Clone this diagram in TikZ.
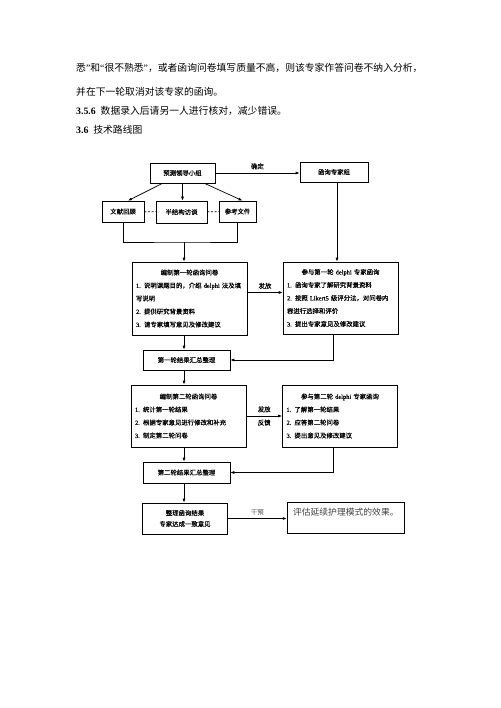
\documentclass[tikz,border=0pt]{standalone}
\usepackage{fontspec}
\setmainfont{Noto Sans CJK SC}
\newfontfamily\lat{Liberation Serif}
\newfontfamily\diag[FakeBold=0.4]{Noto Sans CJK SC}
\newfontfamily\dlat[FakeBold=0.4]{Liberation Serif}
\usepackage{tikz}
\usetikzlibrary{arrows.meta,positioning,calc}

\begin{document}
\begin{tikzpicture}[
  x=1pt, y=-1pt,
  >={Latex[length=4pt,width=3pt]},
  font=\diag\fontsize{6.4}{8}\selectfont,
  box/.style={draw, line width=0.7pt, inner sep=0pt, minimum height=20pt},
  bigbox/.style={draw, line width=0.7pt, inner xsep=4pt, inner ysep=0pt, text width=107pt, align=left, font=\diag\fontsize{6.4}{13}\selectfont},
  lbl/.style={font=\diag\fontsize{6.4}{8}\selectfont},
  body/.style={anchor=west, inner sep=0pt, font=\rmfamily\fontsize{9.8}{12}\selectfont},
  arrow/.style={->, line width=0.7pt},
  link/.style={line width=0.7pt, dash pattern=on 2pt off 1.6pt}
]
\useasboundingbox (0,0) rectangle (500,708);

% text of the page
\node[body] (t1) at (76,68) {悉{\lat ”}和{\lat “}很不熟悉{\lat ”}，或者函询问卷填写质量不高，则该专家作答问卷不纳入分析，};
\node[body] (t2) at (76,92) {并在下一轮取消对该专家的函询。};
\node[body] (t3) at (76,111) {{\lat\bfseries 3.5.6}\enspace 数据录入后请另一人进行核对，减少错误。};
\node[body] (t4) at (76,130) {{\lat\bfseries 3.6}\enspace 技术路线图};

% route map
\node[box, minimum width=65pt] (lead) at (182.5,173) {预测领导小组};
\node[box, minimum width=68pt] (panel) at (334,172) {函询专家组};
\node[box, minimum width=42pt, minimum height=21pt] (lit) at (123,211.5) {文献回顾};
\node[box, minimum width=51pt, minimum height=22pt] (interview) at (181.5,212) {半结构访谈};
\node[box, minimum width=37pt, minimum height=21pt] (refs) at (237.5,211.5) {参考文件};
\coordinate (merge) at (184,242);

\node[bigbox, minimum height=73pt] (draft1) at (189.5,298.5) {\centering 编制第一轮函询问卷\par\raggedright
  {\dlat 1.} 说明课题目的，介绍 {\dlat delphi} 法及填\\写说明\\{\dlat 2.} 提供研究背景资料\\{\dlat 3.} 请专家填写意见及修改建议};
\node[bigbox, minimum height=72pt] (reply1) at (340.5,298) {\centering 参与第一轮 {\dlat delphi} 专家函询\par\raggedright
  {\dlat 1.} 函询专家了解研究背景资料\\{\dlat 2.} 按照 {\dlat Likert5} 级评分法，对问卷内\\容进行选择和评价\\{\dlat 3.} 提出专家意见及修改建议};
\node[box, minimum width=87pt] (sum1) at (186.5,360) {第一轮结果汇总整理};

\node[bigbox, minimum height=62pt] (draft2) at (188.5,416) {\centering 编制第二轮函询问卷\par\raggedright
  {\dlat 1.} 统计第一轮结果\\{\dlat 2.} 根据专家意见进行修改和补充\\{\dlat 3.} 制定第二轮问卷};
\node[bigbox, minimum height=62pt] (reply2) at (340,416) {\centering 参与第二轮 {\dlat delphi} 专家函询\par\raggedright
  {\dlat 1.}\enspace 了解第一轮结果\\{\dlat 2.}\enspace 应答第二轮问卷\\{\dlat 3.} 提出意见及修改建议};
\node[box, minimum width=87pt, minimum height=21pt] (sum2) at (186.5,472.5) {第二轮结果汇总整理};

\node[box, minimum width=85pt, minimum height=31pt, align=center, font=\diag\fontsize{6.4}{11}\selectfont] (final) at (185,518.5) {整理函询结果\\专家达成一致意见};
\node[draw, line width=0.5pt, minimum width=117pt, minimum height=31pt, inner xsep=6pt, text width=105pt, text depth=11pt, align=left, text=black!75, font=\rmfamily\fontsize{8.8}{10}\selectfont] (eval) at (345.5,517.5) {评估延续护理模式的效果。};

\draw[arrow] (lead.east) -- node[lbl, above] {确定} (lead.east -| panel.west);
\draw[arrow] ([xshift=-20pt]lead.south) -- ([xshift=5pt]lit.north);
\draw[arrow] (lead.south) -- (lead.south |- interview.north);
\draw[arrow] ([xshift=22pt]lead.south) -- ([xshift=5pt]refs.north);
\draw[link] (lit) -- (interview);
\draw[link] (interview) -- (refs);
\draw[line width=0.7pt] (lit.south) |- (merge) -| (refs.south);
\draw[arrow] (merge) -- (merge |- draft1.north);
\draw[arrow] ([xshift=3pt]panel.south) -- ([xshift=3pt]panel.south |- reply1.north);

\draw[arrow] ([yshift=6pt]draft1.east) -- node[lbl, above] {发放} ([yshift=6pt]draft1.east -| reply1.west);
\draw[arrow] (draft1.south -| merge) -- (sum1.north -| merge);
\draw[arrow] ([xshift=-7pt]reply1.south) |- (sum1.east);
\draw[arrow] (sum1.south -| merge) -- (draft2.north -| merge);
\draw[arrow] (draft2.east) -- node[lbl, above] {发放} node[lbl, below] {反馈} (draft2.east -| reply2.west);
\draw[arrow] (draft2.south -| merge) -- (sum2.north -| merge);
\draw[arrow] ([xshift=-7pt]reply2.south) |- (sum2.east);
\draw[arrow] (sum2.south -| merge) -- (final.north -| merge);
\draw[arrow] (final.east) -- node[lbl, above, text=black!45] {干预} (final.east -| eval.west);
\end{tikzpicture}
\end{document}
